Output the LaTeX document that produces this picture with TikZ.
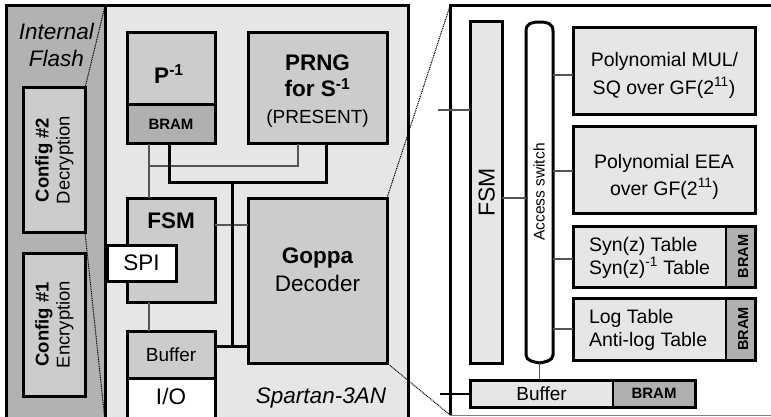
\documentclass[tikz,border=0pt]{standalone}
\usepackage{fontspec}
\setmainfont{Liberation Sans}
\definecolor{flashg}{HTML}{B2B2B2}
\definecolor{spartg}{HTML}{E6E6E6}
\definecolor{midg}{HTML}{CCCCCC}
\definecolor{bramg}{HTML}{B0B0B0}
\definecolor{lightg}{HTML}{E6E6E6}
\definecolor{wireg}{HTML}{555555}
\newcommand\fA{\fontsize{22.5}{27}\selectfont}
\newcommand\fP{\fontsize{19}{23}\selectfont}
\newcommand\fB{\fontsize{19.5}{23}\selectfont}
\newcommand\fC{\fontsize{15}{18}\selectfont}
\newcommand\fV{\fontsize{14.5}{17}\selectfont}
\newcommand\fD{\fontsize{18.5}{21}\selectfont}
\newcommand\fS{\fontsize{15.5}{18}\selectfont}
\begin{document}
\begin{tikzpicture}[x=1pt,y=-1pt,
  region/.style={draw, line width=3pt, anchor=north west, outer sep=0pt, inner sep=0pt},
  blk/.style={region, fill=midg},
  rblk/.style={region, fill=lightg},
  inpart/.style={anchor=north west, outer sep=0pt, inner sep=0pt, draw=none, fill=bramg},
  txt/.style={anchor=base, inner sep=0pt, outer sep=0pt},
  wire/.style={draw=wireg, line width=1.2pt},
  divl/.style={line width=1.4pt},
  busl/.style={line width=3pt},
  zl/.style={line width=1pt, dash pattern=on 1pt off 0.8pt},
  outl/.style={line width=3pt}]
\useasboundingbox (0,0) rectangle (771,417);
\clip (0,0) rectangle (771,417);

% ---------- left: flash and Spartan ----------
\node[region, fill=flashg, minimum width=99pt, minimum height=415pt] (flash) at (6,6) {};
\node[region, fill=spartg, minimum width=303pt, minimum height=415pt] (spartan) at (105,6) {};
\node[txt, font=\fA\itshape] (if1) at (56.3,39.3) {Internal};
\node[txt, font=\fA\itshape] (if2) at (56.3,66.5) {Flash};

\node[blk, fill=midg, minimum width=62pt, minimum height=144pt] (c2) at (23,88) {};
\node[txt, rotate=90, font=\fD\bfseries] (c2a) at (48.5,160) {Config \#2};
\node[txt, rotate=90, font=\fD] (c2b) at (69.5,160) {Decryption};
\node[blk, fill=midg, minimum width=62pt, minimum height=143pt] (c1) at (23,253) {};
\node[txt, rotate=90, font=\fD\bfseries] (c1a) at (48.5,324.5) {Config \#1};
\node[txt, rotate=90, font=\fD] (c1b) at (69.5,324.5) {Encryption};

\node[blk, minimum width=88pt, minimum height=72pt] (pup) at (127,33) {};
\node[txt, font=\fA\bfseries] (ptx) at (169,83.3) {P\textsuperscript{-1}};
\node[blk, fill=bramg, minimum width=88pt, minimum height=39pt, font=\fC\bfseries] (pbram) at (127,105) {BRAM};

\node[blk, minimum width=139pt, minimum height=111pt] (prng) at (248,33) {};
\node[txt, font=\fA\bfseries] (pr1) at (317.5,71) {PRNG};
\node[txt, font=\fA\bfseries] (pr2) at (317.5,96.7) {for S\textsuperscript{-1}};
\node[txt, font=\fP] (pr3) at (317.5,123.5) {(PRESENT)};

\node[blk, minimum width=88pt, minimum height=104pt] (fsm) at (127,198) {};
\node[txt, font=\fA\bfseries] (fsmt) at (171,228.3) {FSM};
\node[region, fill=white, minimum width=69pt, minimum height=36pt, font=\fA] (spi) at (107,245) {SPI};

\node[blk, minimum width=139pt, minimum height=165pt] (goppa) at (248,198) {};
\node[txt, font=\fA\bfseries] (g1) at (317.5,263.3) {Goppa};
\node[txt, font=\fA] (g2) at (317.5,291.7) {Decoder};

\node[blk, minimum width=88pt, minimum height=47pt, font=\fP] (buf) at (127,331) {Buffer};
\node[region, fill=white, minimum width=88pt, minimum height=45pt] (io) at (127,378) {};
\node[txt, font=\fA] (iot) at (171,404) {I/O};
\node[txt, font=\fA\itshape] (sp) at (321,403) {Spartan-3AN};

% left wires
\coordinate (j1) at (149,166);
\coordinate (bus) at (232,182);
\coordinate (bj) at (232,346);
\draw[wire] ([xshift=22pt]pbram.south west) -- ([xshift=22pt]fsm.north west);
\draw[wire] ([xshift=50pt]prng.south west) |- (j1);
\draw[busl] ([xshift=42pt]pbram.south west) |- (bus) -| ([xshift=78pt]prng.south west);
\draw[wire] ([yshift=25pt]fsm.east) -- ([yshift=25pt]fsm.east -| goppa.west);
\draw[busl] (bus) -- (bj);
\draw[busl] (buf.east |- bj) -- (goppa.west |- bj);
\draw[wire] ([xshift=22pt]fsm.south west) -- ([xshift=22pt]buf.north west);

% ---------- right panel ----------
\node[anchor=north west, outer sep=0pt, inner sep=0pt, minimum width=330pt, minimum height=409pt, fill=white] (rp) at (450,6) {};
\draw[outl] (rp.south west) -- (rp.north west) -- (rp.north east);
\draw[line width=1pt, draw=gray] (rp.south west) -- (rp.south east);

\node[rblk, minimum width=32pt, minimum height=341pt] (fsm2) at (470,22) {};
\node[txt, rotate=90, font=\fontsize{23}{27}\selectfont] (fsm2t) at (494.5,192.5) {FSM};

\node[anchor=north west, outer sep=0pt, inner sep=0pt, minimum width=27pt, minimum height=341pt] (sw) at (526,22) {};
\draw[outl, fill=white] ([yshift=-9pt]sw.north west)
  .. controls ([yshift=-1pt]sw.north west) and ([xshift=-7pt]sw.north) .. (sw.north)
  .. controls ([xshift=7pt]sw.north) and ([yshift=-1pt]sw.north east) .. ([yshift=-9pt]sw.north east)
  -- ([yshift=8pt]sw.south east)
  .. controls ([yshift=2pt]sw.south east) and ([xshift=5pt,yshift=1pt]sw.south) .. (sw.south)
  .. controls ([xshift=-5pt,yshift=1pt]sw.south) and ([yshift=2pt]sw.south west) .. ([yshift=8pt]sw.south west)
  -- cycle;
\node[txt, rotate=90, font=\fS] (swt) at (544.5,192) {Access switch};

\node[rblk, minimum width=182pt, minimum height=87pt] (mul) at (573,28) {};
\node[txt, font=\fB] (m1) at (664.5,66.5) {Polynomial MUL/};
\node[txt, font=\fB] (m2) at (664,94.5) {SQ over GF(2\textsuperscript{11})};

\node[rblk, minimum width=182pt, minimum height=86pt] (eea) at (573,127) {};
\node[txt, font=\fB] (e1t) at (664,168.3) {Polynomial EEA};
\node[txt, font=\fB] (e2t) at (664.5,195) {over GF(2\textsuperscript{11})};

\node[rblk, minimum width=182pt, minimum height=61pt] (syn) at (573,226) {};
\node[inpart, minimum width=28pt, minimum height=60pt] (synb) at (726,226.5) {};
\draw[divl] (synb.north west) -- (synb.south west);
\draw[outl] (syn.north west) rectangle (syn.south east);
\node[txt, anchor=base west, font=\fB] (s1) at (589,251) {Syn(z) Table};
\node[txt, anchor=base west, font=\fB] (s2) at (589,274) {Syn(z)\textsuperscript{-1} Table};
\node[txt, rotate=90, font=\fV\bfseries] (sbt) at (748,256.5) {BRAM};

\node[rblk, minimum width=182pt, minimum height=62pt] (log) at (573,298) {};
\node[inpart, minimum width=28pt, minimum height=61pt] (logb) at (726,298.5) {};
\draw[divl] (logb.north west) -- (logb.south west);
\draw[outl] (log.north west) rectangle (log.south east);
\node[txt, anchor=base west, font=\fB] (l1) at (589,323) {Log Table};
\node[txt, anchor=base west, font=\fB] (l2) at (589,346) {Anti-log Table};
\node[txt, rotate=90, font=\fV\bfseries] (lbt) at (748,329) {BRAM};

\node[rblk, minimum width=225pt, minimum height=27pt] (buf2) at (470,380) {};
\node[inpart, minimum width=81pt, minimum height=26pt] (buf2b) at (613,380.5) {};
\draw[divl] (buf2b.north west) -- (buf2b.south west);
\draw[outl] (buf2.north west) rectangle (buf2.south east);
\node[font=\fP, inner sep=0pt] (b2t) at (541.5,393.5) {Buffer};
\node[font=\fC\bfseries, inner sep=0pt] (b2b) at (654,393.5) {BRAM};

% right wires
\coordinate (e1) at (438,110);
\coordinate (e2) at (440,394);
\draw[wire] (e1) -- (e1 -| fsm2.west);
\draw[line width=2pt] (e2) -- (e2 -| buf2.west);
\draw[wire] ([yshift=-5.5pt]fsm2.east) -- ([yshift=-5.5pt]fsm2.east -| sw.west);
\draw[wire] ([yshift=-3.5pt]mul.west -| sw.east) -- ([yshift=-3.5pt]mul.west);
\draw[wire] ([yshift=-1pt]eea.west -| sw.east) -- ([yshift=-1pt]eea.west);
\draw[wire] ([yshift=-2.5pt]syn.west -| sw.east) -- ([yshift=-2.5pt]syn.west);
\draw[wire] (log.west -| sw.east) -- (log.west);
\draw[wire] (sw.south) -- (sw.south |- buf2.north);

% zoom lines
\draw[zl] (spartan.north west) -- (c2.north east);
\draw[zl] (c2.south east) -- (spartan.south west);
\draw[zl] (goppa.north east) -- (rp.north west);
\draw[zl] (goppa.south east) -- (rp.south west);
\end{tikzpicture}
\end{document}
